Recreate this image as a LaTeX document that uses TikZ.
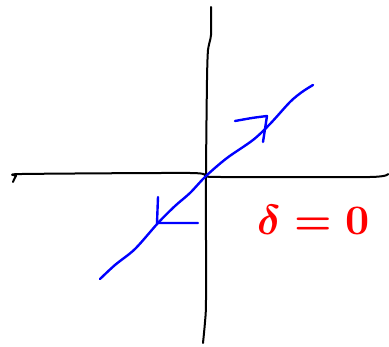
\documentclass[tikz,border=0pt]{standalone}
\usepackage{graphicx}
\usepackage{xcolor}
\usepackage{tikz}
\usetikzlibrary{positioning, calc}

\tikzset{
    axisline/.style={draw=black, line width=2pt, line cap=round, line join=round},
    vecline/.style={draw=blue, line width=2.4pt, line cap=round, line join=round},
    ink/.style={red, inner sep=0pt}
}

\begin{document}
\begin{tikzpicture}[x=1pt, y=-1pt]
    \useasboundingbox (0,0) rectangle (389,347);
    \coordinate (O) at (206,176);
    % axes
    \draw[axisline] plot[smooth, tension=0.4] coordinates {(211,7) (211,35) (208,50) (207,80) (O) (206,300) (205,322) (203,343)};
    \draw[axisline] plot[smooth, tension=0.4] coordinates {(13,182) (16,176) (22,174) (190,173) (O) (220,177) (370,177) (388,174)};
    % the vector through the origin
    \draw[vecline] plot[smooth, tension=0.5] coordinates {(100,279) (115,265) (135,249) (158,223) (175,206) (190,193) (O) (227,158) (253,140) (270,124) (290,102) (302,92) (313,85)};
    \coordinate (tipA) at (267,116);
    \draw[vecline] plot[smooth, tension=0.5] coordinates {(235,121) (252,118) (tipA)} -- (263,142);
    \coordinate (tipB) at (157,223);
    \draw[vecline] (158,197) -- (tipB) -- (198,223);
    % label
    \node[ink, anchor=base west] (lbl) at (257,235) {\scalebox{4.2}{\boldmath$\delta=0$}};
\end{tikzpicture}
\end{document}
